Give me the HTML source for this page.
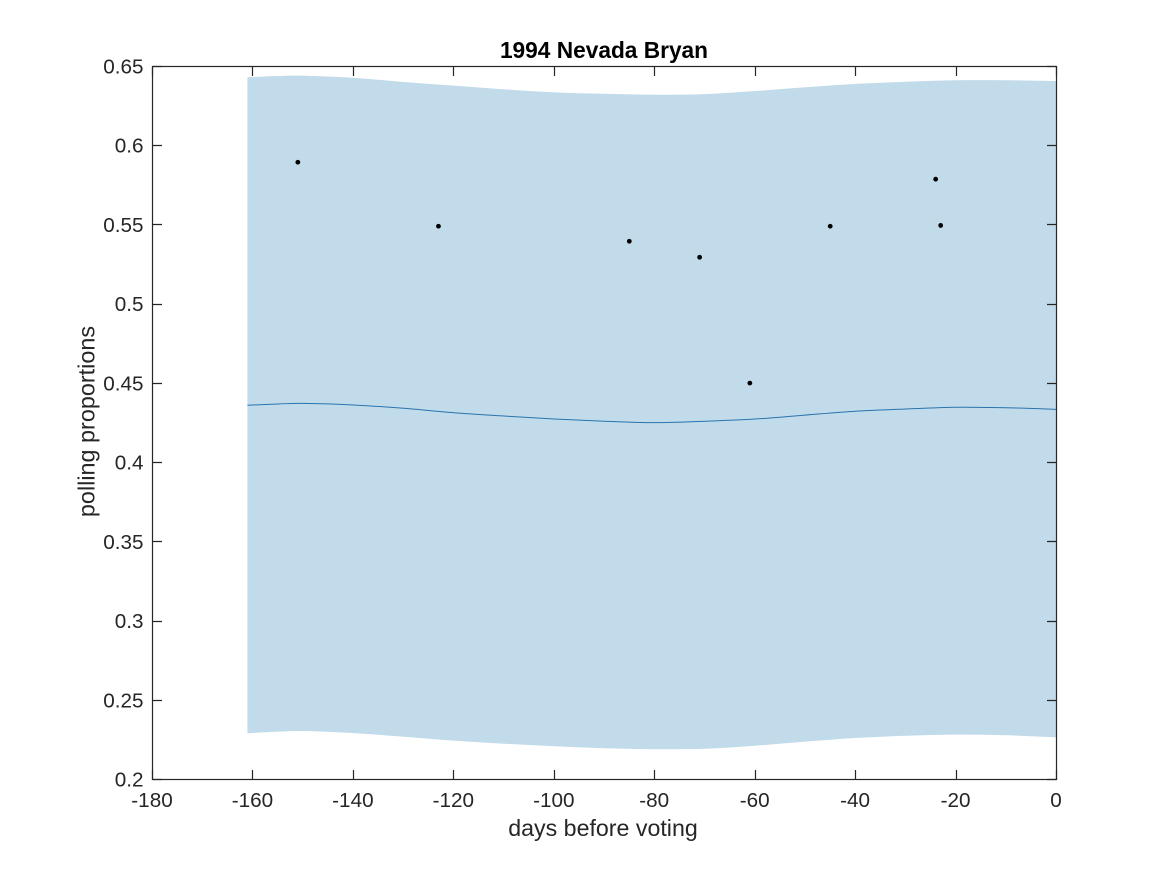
<!DOCTYPE html>
<html>
<head>
<meta charset="utf-8">
<title>1994 Nevada Bryan</title>
<style>
html,body{margin:0;padding:0;background:#fff;width:1167px;height:875px;overflow:hidden}
svg{display:block;position:absolute;left:0;top:0}
text{font-family:"Liberation Sans",Arial,sans-serif;fill:#262626}
</style>
</head>
<body>
<svg id="chart" width="1167" height="875" viewBox="0 0 1167 875" xmlns="http://www.w3.org/2000/svg">
  <rect x="0" y="0" width="1167" height="875" fill="#fff"/>
  <g id="marks"></g>
  <g id="axes"></g>
  <text x="604" y="58" font-size="22.7" font-weight="bold" text-anchor="middle" style="fill:#000">1994 Nevada Bryan</text>
  <text x="603" y="836" font-size="23.2" text-anchor="middle">days before voting</text>
  <text transform="translate(94.5 421.5) rotate(-90)" font-size="23.4" text-anchor="middle">polling proportions</text>
</svg>
<script>
const bandDays = [-161.1,-155,-150,-140,-130,-120,-110,-100,-90,-80,-70,-60,-50,-40,-30,-20,-10,0];
const upperValues = [0.6432,0.6440,0.6442,0.6429,0.6402,0.6379,0.6356,0.6337,0.6328,0.6322,0.6326,0.6345,0.6369,0.6390,0.6404,0.6413,0.6413,0.6408];
const lowerValues = [0.2292,0.2302,0.2306,0.2293,0.2270,0.2245,0.2226,0.2210,0.2197,0.2191,0.2194,0.2213,0.2239,0.2262,0.2276,0.2283,0.2279,0.2266];
const meanValues = [0.4362,0.4370,0.4374,0.4364,0.4343,0.4315,0.4294,0.4275,0.4261,0.4252,0.4261,0.4275,0.4300,0.4324,0.4338,0.4349,0.4346,0.4336];
const pollDays = [-151,-123,-85,-71,-61,-45,-24,-23];
const pollValues = [0.5894,0.549,0.5395,0.5294,0.45,0.549,0.5787,0.5495];
const xTicks = [-180,-160,-140,-120,-100,-80,-60,-40,-20,0];
const yTicks = [0.2,0.25,0.3,0.35,0.4,0.45,0.5,0.55,0.6,0.65];
const yTickLabels = ['0.2','0.25','0.3','0.35','0.4','0.45','0.5','0.55','0.6','0.65'];

const NS = 'http://www.w3.org/2000/svg';
const plotLeft = 152.5, plotRight = 1056.5, plotTop = 66.5, plotBottom = 779.5;
const xDomain = [-180, 0], yDomain = [0.2, 0.65];
const tickLen = 9.5;
function xScale(v){ return plotLeft + (v - xDomain[0]) / (xDomain[1] - xDomain[0]) * (plotRight - plotLeft); }
function yScale(v){ return plotBottom - (v - yDomain[0]) / (yDomain[1] - yDomain[0]) * (plotBottom - plotTop); }
function make(tag, attrs, parent){
  const el = document.createElementNS(NS, tag);
  for (const k in attrs) el.setAttribute(k, attrs[k]);
  parent.appendChild(el);
  return el;
}
function smooth(xs, ys, move){
  const n = xs.length;
  let d = (move ? 'M' : 'L') + xs[0].toFixed(2) + ' ' + ys[0].toFixed(2);
  for (let i = 0; i < n - 1; i++){
    const a = Math.max(i - 1, 0), b = Math.min(i + 2, n - 1);
    const c1x = xs[i] + (xs[i+1] - xs[a]) / 6, c1y = ys[i] + (ys[i+1] - ys[a]) / 6;
    const c2x = xs[i+1] - (xs[b] - xs[i]) / 6, c2y = ys[i+1] - (ys[b] - ys[i]) / 6;
    d += 'C' + c1x.toFixed(2) + ' ' + c1y.toFixed(2) + ' ' + c2x.toFixed(2) + ' ' + c2y.toFixed(2) + ' ' + xs[i+1].toFixed(2) + ' ' + ys[i+1].toFixed(2);
  }
  return d;
}
const marks = document.getElementById('marks');
const axes = document.getElementById('axes');
const bx = bandDays.map(xScale);
const rx = bx.slice().reverse();
const bandPath = smooth(bx, upperValues.map(yScale), true) + smooth(rx, lowerValues.slice().reverse().map(yScale), false) + 'Z';
const band = make('path', {d: bandPath, fill: '#c1dbea', stroke: 'none'}, marks);


const meanLine = make('path', {d: smooth(bx, meanValues.map(yScale), true), fill: 'none', stroke: '#2a73ad', 'stroke-width': 1}, marks);


pollDays.forEach(function(day, i){
  const dot = make('circle', {cx: xScale(day) - 0.3, cy: yScale(pollValues[i]) - 0.3, r: 2.4, fill: '#000'}, marks);
  
  
});
const tickStyle = {stroke: '#262626', 'stroke-width': 1.2, fill: 'none'};
xTicks.forEach(function(t){
  const x = Math.round(xScale(t) - 0.5) + 0.5;
  const tick = make('path', Object.assign({d: 'M' + x + ' ' + plotBottom + 'V' + (plotBottom - tickLen) + 'M' + x + ' ' + plotTop + 'V' + (plotTop + tickLen)}, tickStyle), axes);
  
  
  const label = make('text', {x: xScale(t) - 0.5, y: 807, 'font-size': 20.7, 'text-anchor': 'middle'}, axes);
  label.textContent = String(t);
  
  
});
yTicks.forEach(function(t, i){
  const y = Math.round(yScale(t) - 0.5) + 0.5;
  const tick = make('path', Object.assign({d: 'M' + plotLeft + ' ' + y + 'H' + (plotLeft + tickLen) + 'M' + plotRight + ' ' + y + 'H' + (plotRight - tickLen)}, tickStyle), axes);
  
  
  const label = make('text', {x: 143.5, y: yScale(t) + 7, 'font-size': 20.7, 'text-anchor': 'end'}, axes);
  label.textContent = yTickLabels[i];
  
  
});
const frame = make('rect', {x: plotLeft, y: plotTop, width: plotRight - plotLeft, height: plotBottom - plotTop, fill: 'none', stroke: '#262626', 'stroke-width': 1.2}, axes);


</script>
</body>
</html>
